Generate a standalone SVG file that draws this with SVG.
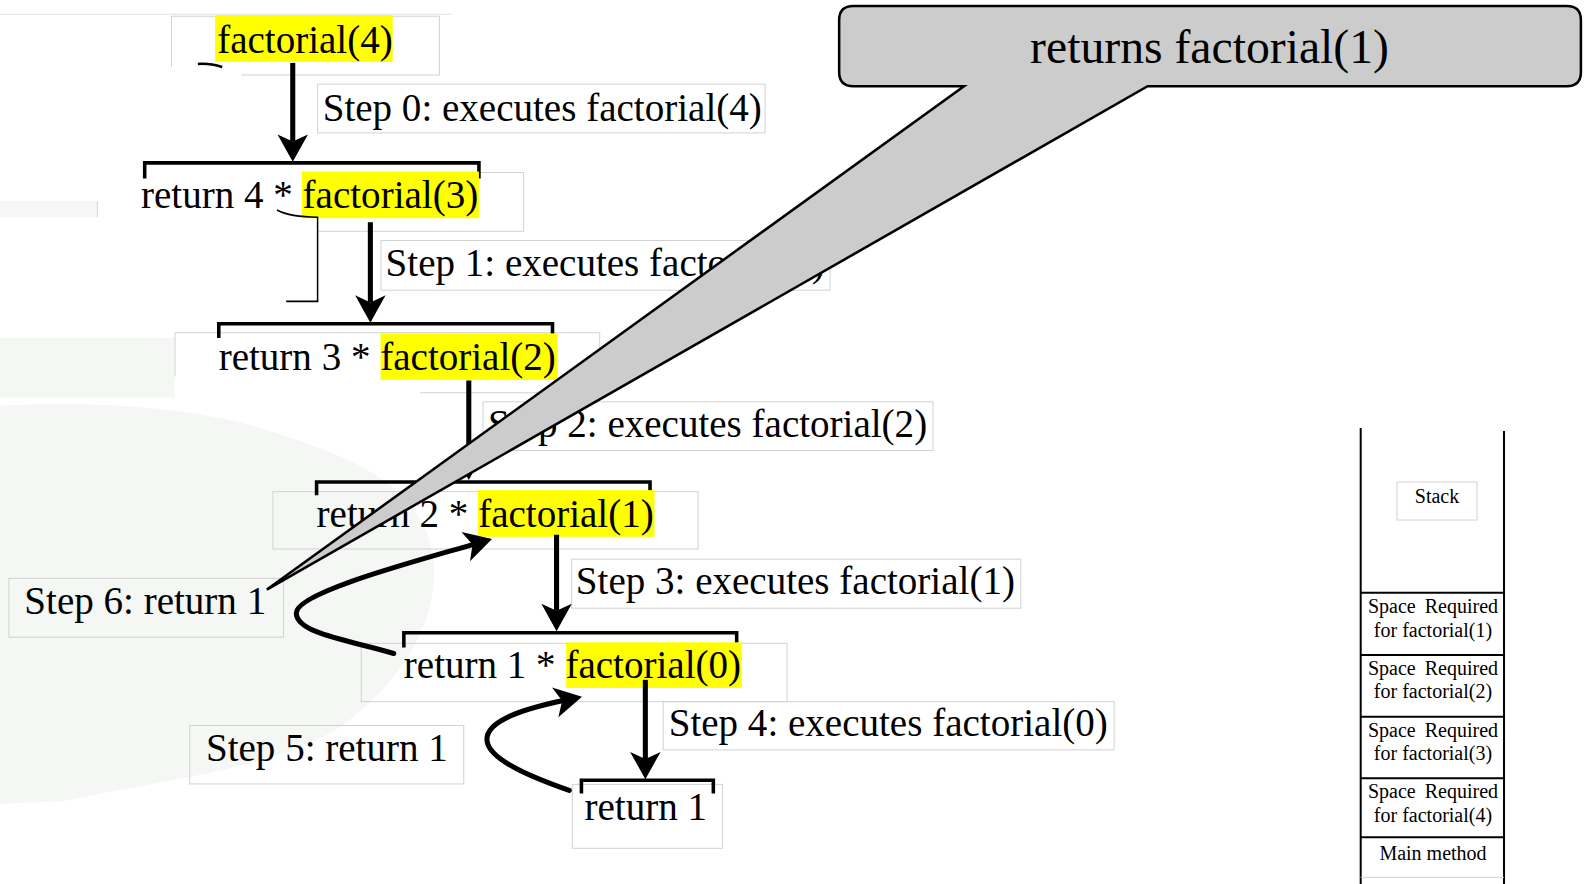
<svg xmlns="http://www.w3.org/2000/svg" width="1591" height="884" viewBox="0 0 1591 884">
<defs>
<style>
text{font-family:"Liberation Serif","Times New Roman",serif;fill:#000}
.t{font-size:38.5px}
.s{font-size:20px}
.box{fill:none;stroke:#d2d2d2;stroke-width:1}
.hl{fill:#ffff00}
.br{fill:none;stroke:#000;stroke-width:3.5}
.ar{fill:none;stroke:#000;stroke-width:5}
.cv{fill:none;stroke:#000;stroke-width:5;stroke-linecap:round}
.stk{stroke:#000;stroke-width:2;fill:none}
.wm{fill:#f4f7f4}
</style>
<marker id="ah" viewBox="-8 -16 30 32" refX="0" refY="0" markerWidth="30" markerHeight="32" markerUnits="userSpaceOnUse" orient="auto">
<path d="M20,0 L-7,-15 L0,0 L-7,15 Z" fill="#000"/>
</marker>
</defs>
<rect width="1591" height="884" fill="#fff"/>
<g transform="scale(1.0147)">
<g id="background">
<line x1="0" y1="14" x2="445" y2="14" stroke="#e2e2e2" stroke-width="1"/>
<rect class="wm" x="0" y="198" width="96" height="16"/>
<line x1="96" y1="198" x2="96" y2="214" stroke="#d8d8d8"/>
<rect class="wm" x="0" y="333" width="172" height="59"/>
<path class="wm" d="M0,400 C80,395 180,400 250,420 C330,445 410,470 425,540 C440,610 390,680 330,720 C260,760 150,770 60,790 L0,792 Z"/>
</g>
<g id="node-f4">
<path class="box" d="M169,66 V16 H433 V74 H238"/>
<rect class="hl" x="212" y="15" width="175" height="46"/>
<text class="t" x="214" y="52">factorial(4)</text>
<path d="M195,63 Q206,62 219,66" fill="none" stroke="#000" stroke-width="2.5"/>
</g>
<g id="node-r4">
<path class="box" d="M297,170 H516 V228 H313"/>
<path class="br" d="M142.6,176 V160.5 H472 V176"/>
<rect class="hl" x="297.5" y="169" width="174.5" height="46"/>
<text class="t" x="139" y="205">return 4 * factorial(3)</text>
<path d="M273,207 Q286,214 313,214 V297 H282" fill="none" stroke="#000" stroke-width="1.5"/>
</g>
<g id="node-r3">
<path class="box" d="M172.5,371 V328 H591 V387 H414"/>
<path class="br" d="M215.6,333 V319 H544.5 V333"/>
<rect class="hl" x="375" y="328.5" width="174.5" height="46"/>
<text class="t" x="215.5" y="364.5">return 3 * factorial(2)</text>
</g>
<g id="node-r2">
<rect class="box" x="269" y="484.5" width="419" height="56.5"/>
<path class="br" d="M312,488 V475 H640.6 V488"/>
<rect class="hl" x="471" y="483" width="174" height="46"/>
<text class="t" x="312" y="519">return 2 * factorial(1)</text>
</g>
<g id="node-r1">
<rect class="box" x="356" y="634" width="419.6" height="57.5"/>
<path class="br" d="M398,638 V623.5 H726 V638"/>
<rect class="hl" x="558" y="633" width="173" height="45"/>
<text class="t" x="398" y="668">return 1 * factorial(0)</text>
</g>
<g id="node-ret1">
<rect class="box" x="564" y="773" width="148" height="63"/>
<path class="br" d="M573,782 V769 H703 V782"/>
<text class="t" x="576" y="808">return 1</text>
</g>
<g id="labels">
<rect class="box" x="313" y="83" width="441" height="48"/>
<text class="t" x="318" y="119">Step 0: executes factorial(4)</text>
<rect class="box" x="375.5" y="237" width="442.5" height="49"/>
<text class="t" x="380" y="272">Step 1: executes factorial(3)</text>
<rect class="box" x="476" y="396" width="443.5" height="48"/>
<text class="t" x="481" y="431">Step 2: executes factorial(2)</text>
<rect class="box" x="563.4" y="551" width="442.6" height="48.4"/>
<text class="t" x="567.5" y="585">Step 3: executes factorial(1)</text>
<rect class="box" x="653.6" y="691.5" width="444.4" height="47.5"/>
<text class="t" x="659" y="725">Step 4: executes factorial(0)</text>
<rect class="box" x="187" y="715" width="270" height="57.6"/>
<text class="t" x="203" y="750">Step 5: return 1</text>
<rect class="box" x="8.8" y="570" width="270.6" height="58"/>
<text class="t" x="24" y="605">Step 6: return 1</text>
</g>
<g id="connectors">
<line class="ar" x1="288.5" y1="62" x2="288.5" y2="139.5" marker-end="url(#ah)"/>
<line class="ar" x1="365" y1="219" x2="365" y2="298" marker-end="url(#ah)"/>
<line class="ar" x1="462" y1="375" x2="462" y2="453" marker-end="url(#ah)"/>
<line class="ar" x1="548.5" y1="527" x2="548.5" y2="602" marker-end="url(#ah)"/>
<line class="ar" x1="636" y1="670" x2="636" y2="748" marker-end="url(#ah)"/>
<path class="cv" d="M388,644 C350,632 292,625 292,604 C292,584 410,553 465.7,536.7" marker-end="url(#ah)"/>
<path class="cv" d="M561,779 C530,768 482,750 480,730 C478,712 510,700 554,690.7" marker-end="url(#ah)"/>
</g>
<g id="callout">
<path d="M841,6 H1544 Q1558,6 1558,20 V71 Q1558,85 1544,85 H1131 L263,581 L950,85 H841 Q827,85 827,71 V20 Q827,6 841,6 Z" fill="#cccccc" stroke="#000" stroke-width="2.5" stroke-linejoin="miter"/>
<text x="1192" y="62" font-size="47" text-anchor="middle">returns factorial(1)</text>
</g>
</g>
<g id="stack">
<line class="stk" x1="1360.7" y1="428" x2="1360.7" y2="884"/>
<line class="stk" x1="1504" y1="431" x2="1504" y2="884"/>
<rect class="box" x="1397" y="482" width="80" height="38"/>
<text class="s" x="1437" y="503" text-anchor="middle">Stack</text>
<line class="stk" x1="1360.7" y1="592.7" x2="1504" y2="592.7"/>
<line class="stk" x1="1360.7" y1="655" x2="1504" y2="655"/>
<line class="stk" x1="1360.7" y1="716.7" x2="1504" y2="716.7"/>
<line class="stk" x1="1360.7" y1="778.3" x2="1504" y2="778.3"/>
<line class="stk" x1="1360.7" y1="837.3" x2="1504" y2="837.3"/>
<line x1="1360.7" y1="877.3" x2="1504" y2="877.3" stroke="#cfcfcf" stroke-width="1"/>
<g id="frame-f1"><text class="s" x="1433" y="613.3" text-anchor="middle" word-spacing="4">Space Required</text><text class="s" x="1433" y="636.7" text-anchor="middle">for factorial(1)</text></g>
<g id="frame-f2"><text class="s" x="1433" y="675" text-anchor="middle" word-spacing="4">Space Required</text><text class="s" x="1433" y="698.3" text-anchor="middle">for factorial(2)</text></g>
<g id="frame-f3"><text class="s" x="1433" y="736.7" text-anchor="middle" word-spacing="4">Space Required</text><text class="s" x="1433" y="760" text-anchor="middle">for factorial(3)</text></g>
<g id="frame-f4"><text class="s" x="1433" y="798.3" text-anchor="middle" word-spacing="4">Space Required</text><text class="s" x="1433" y="821.7" text-anchor="middle">for factorial(4)</text></g>
<g id="frame-main"><text class="s" x="1433" y="860" text-anchor="middle">Main method</text></g>
</g>
</svg>
